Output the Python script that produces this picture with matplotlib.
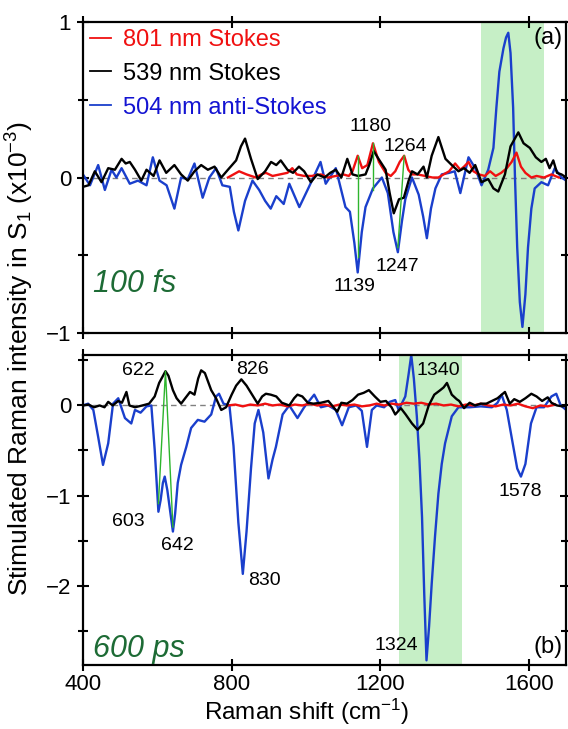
import numpy as np
import matplotlib
matplotlib.use('Agg')
import matplotlib.pyplot as plt
from matplotlib.ticker import MultipleLocator

plt.rcParams['font.family'] = ['Liberation Sans', 'DejaVu Sans']
plt.rcParams['mathtext.fontset'] = 'custom'
plt.rcParams['mathtext.rm'] = 'Liberation Sans'
plt.rcParams['mathtext.it'] = 'Liberation Sans:italic'

# ---- (a) 100 fs : (Raman shift cm-1, intensity x1e-3) ----
blue_a = [(400, 0.02), (419, -0.05), (441, 0.08), (459, -0.08), (477, 0.05), (490, 0.0),
          (504, 0.06), (526, -0.04), (548, -0.02), (571, -0.05), (588, 0.13), (606, -0.02),
          (625, -0.05), (646, -0.20), (664, 0.0), (682, -0.01), (700, 0.09), (722, -0.13),
          (740, 0.0), (758, 0.06), (775, -0.05), (795, -0.06), (806, -0.22), (818, -0.34),
          (836, -0.15), (856, -0.02), (874, -0.08), (890, -0.15), (905, -0.20), (920, -0.12),
          (940, -0.17), (955, -0.04), (982, -0.19), (1008, -0.06), (1039, 0.10), (1053, -0.04),
          (1080, 0.06), (1106, -0.19), (1118, -0.22), (1130, -0.42), (1139, -0.61), (1150, -0.35),
          (1160, -0.19), (1180, -0.07), (1204, 0.0), (1220, -0.10), (1235, -0.35), (1247, -0.48),
          (1258, -0.28), (1267, -0.14), (1285, 0.0), (1303, -0.11), (1315, -0.25), (1325, -0.39),
          (1336, -0.20), (1348, -0.07), (1365, 0.02), (1385, 0.03), (1400, 0.04), (1415, -0.10),
          (1437, 0.13), (1455, 0.06), (1472, -0.05), (1490, 0.05), (1504, 0.19), (1512, 0.45),
          (1520, 0.68), (1531, 0.83), (1538, 0.90), (1544, 0.93), (1550, 0.80), (1557, 0.45),
          (1562, 0.0), (1568, -0.45), (1575, -0.80), (1582, -0.96), (1590, -0.75), (1597, -0.45),
          (1606, -0.20), (1615, -0.07), (1633, -0.03), (1651, -0.05), (1669, 0.06), (1687, 0.0),
          (1700, -0.02)]

black_a = [(400, -0.06), (415, -0.05), (432, 0.04), (450, -0.03), (468, 0.06), (486, 0.05),
           (504, 0.12), (515, 0.09), (526, 0.10), (540, 0.05), (557, -0.02), (571, 0.05),
           (590, 0.01), (606, 0.11), (624, 0.03), (646, 0.08), (664, 0.02), (682, -0.02),
           (700, 0.04), (718, 0.08), (736, 0.05), (754, 0.07), (772, 0.0), (790, 0.05),
           (812, 0.11), (825, 0.20), (836, 0.25), (852, 0.12), (870, -0.01), (890, 0.04),
           (906, 0.10), (920, 0.08), (932, 0.11), (950, 0.05), (965, 0.03), (981, 0.07),
           (995, 0.04), (1013, -0.03), (1030, 0.02), (1050, 0.0), (1065, 0.03), (1080, 0.05),
           (1095, 0.0), (1111, 0.12), (1125, 0.02), (1140, 0.01), (1160, 0.02), (1170, 0.08),
           (1182, 0.17), (1195, 0.12), (1214, 0.05), (1225, -0.10), (1236, -0.23), (1250, -0.14),
           (1263, -0.13), (1276, -0.02), (1285, 0.04), (1300, 0.02), (1316, 0.07), (1325, 0.0),
           (1338, 0.14), (1356, 0.26), (1375, 0.12), (1392, 0.08), (1410, 0.04), (1425, 0.06),
           (1440, 0.03), (1455, 0.08), (1472, -0.03), (1490, -0.01), (1504, -0.07), (1517, -0.09),
           (1535, 0.02), (1550, 0.20), (1571, 0.29), (1585, 0.22), (1602, 0.19), (1618, 0.13),
           (1633, 0.10), (1645, 0.12), (1655, 0.06), (1665, 0.11), (1675, 0.03), (1687, 0.02),
           (1700, 0.0)]

red_a = [(790, 0.0), (805, 0.02), (820, 0.04), (840, 0.02), (865, 0.0), (880, 0.02), (892, 0.03),
         (910, 0.01), (930, 0.02), (950, 0.03), (963, 0.06), (975, 0.02), (995, 0.01), (1015, 0.01),
         (1040, 0.02), (1060, 0.0), (1080, 0.01), (1100, 0.02), (1115, 0.01), (1125, 0.04),
         (1139, 0.14), (1151, 0.06), (1165, 0.08), (1180, 0.22), (1196, 0.10), (1214, 0.03),
         (1228, 0.01), (1240, 0.04), (1252, 0.10), (1264, 0.14), (1275, 0.05), (1285, 0.02),
         (1300, 0.02), (1320, 0.01), (1340, 0.0), (1356, 0.0), (1370, 0.02), (1385, 0.04),
         (1401, 0.09), (1415, 0.05), (1425, 0.07), (1437, 0.10), (1450, 0.04), (1465, 0.02),
         (1481, 0.01), (1495, 0.04), (1510, 0.01), (1525, 0.03), (1540, 0.06), (1553, 0.10),
         (1566, 0.16), (1578, 0.07), (1590, 0.03), (1606, 0.0), (1620, 0.01), (1640, 0.0),
         (1660, 0.02), (1680, 0.0)]

# green guide lines between correlated peaks
links_a = [[(1139, 0.14), (1139, -0.51)],
           [(1180, 0.22), (1180, -0.08)],
           [(1247, -0.45), (1264, 0.14)]]
labels_a = [("1180", 1173, 0.33), ("1264", 1267, 0.20), ("1139", 1129, -0.70), ("1247", 1245, -0.57)]
band_a = (1470, 1640)

# ---- (b) 600 ps ----
blue_b = [(400, 0.0), (414, 0.02), (428, -0.05), (441, -0.35), (454, -0.66), (468, -0.42),
          (481, 0.02), (495, 0.08), (513, -0.14), (530, -0.20), (540, -0.05), (555, -0.08),
          (571, -0.01), (584, 0.0), (593, -0.49), (603, -1.18), (609, -1.05), (615, -0.86),
          (620, -0.79), (627, -0.94), (642, -1.40), (648, -1.20), (655, -0.86), (664, -0.66),
          (678, -0.46), (691, -0.25), (709, -0.16), (727, -0.18), (745, -0.10), (758, 0.10),
          (766, 0.13), (778, 0.02), (794, 0.0), (805, -0.45), (818, -1.30), (830, -1.87),
          (840, -1.40), (852, -0.70), (862, -0.20), (872, -0.05), (885, -0.30), (899, -0.81),
          (910, -0.60), (919, -0.46), (937, -0.10), (955, 0.0), (977, -0.14), (995, -0.02),
          (1022, 0.12), (1040, -0.02), (1060, 0.0), (1080, -0.05), (1097, -0.22), (1115, -0.02),
          (1135, 0.0), (1150, -0.06), (1164, -0.46), (1177, -0.05), (1190, 0.0), (1210, -0.02),
          (1225, 0.04), (1240, 0.06), (1249, -0.05), (1267, 0.10), (1276, 0.35), (1283, 0.56),
          (1290, 0.30), (1298, -0.12), (1305, -0.60), (1312, -1.24), (1318, -2.10), (1324, -2.83),
          (1331, -2.45), (1338, -1.98), (1347, -1.45), (1356, -0.98), (1365, -0.65), (1374, -0.42),
          (1392, -0.12), (1410, -0.02), (1440, -0.02), (1470, -0.01), (1500, -0.02), (1515, 0.03),
          (1526, 0.12), (1540, -0.05), (1555, -0.40), (1568, -0.70), (1578, -0.79), (1590, -0.65),
          (1605, -0.20), (1620, -0.02), (1640, -0.02), (1660, 0.10), (1673, 0.13), (1685, 0.0),
          (1700, -0.05)]

black_b = [(400, 0.0), (415, 0.01), (430, -0.02), (445, 0.0), (458, -0.02), (468, 0.04),
           (480, 0.0), (495, 0.05), (505, 0.03), (517, 0.15), (525, 0.0), (540, -0.02),
           (560, 0.0), (578, 0.02), (593, 0.10), (605, 0.25), (622, 0.38), (630, 0.33),
           (642, 0.17), (652, 0.08), (664, 0.02), (675, 0.08), (688, 0.15), (700, 0.12),
           (710, 0.30), (718, 0.39), (728, 0.36), (745, 0.17), (758, 0.08), (772, -0.05),
           (785, -0.02), (800, 0.12), (812, 0.22), (826, 0.29), (840, 0.22), (855, 0.12),
           (870, 0.02), (882, 0.10), (892, 0.13), (905, 0.12), (920, 0.10), (935, 0.03),
           (955, 0.0), (968, 0.08), (977, 0.12), (990, 0.10), (1005, 0.03), (1020, 0.02),
           (1040, 0.03), (1060, 0.05), (1070, 0.0), (1084, -0.07), (1095, 0.03), (1110, 0.02),
           (1125, 0.06), (1140, 0.12), (1155, 0.14), (1169, 0.17), (1185, 0.10), (1200, 0.04),
           (1215, 0.05), (1230, -0.02), (1240, -0.10), (1255, -0.03), (1268, -0.10), (1285, -0.20),
           (1300, -0.27), (1315, -0.20), (1330, 0.0), (1345, 0.12), (1361, 0.17), (1370, 0.20),
           (1379, 0.25), (1392, 0.12), (1405, 0.07), (1412, 0.05), (1425, -0.03), (1440, 0.03),
           (1455, 0.0), (1470, 0.02), (1485, 0.02), (1500, 0.05), (1515, 0.08), (1535, 0.15),
           (1548, 0.02), (1560, 0.07), (1575, 0.04), (1590, 0.08), (1606, 0.13), (1620, 0.10),
           (1635, 0.05), (1650, 0.09), (1660, 0.03), (1675, 0.0), (1690, -0.01), (1700, 0.0)]

red_b = [(790, 0.0), (810, 0.01), (830, -0.01), (850, 0.01), (870, 0.0), (890, 0.02), (910, 0.0),
         (930, 0.01), (950, -0.01), (970, 0.01), (990, 0.0), (1010, 0.02), (1030, 0.0), (1050, 0.01),
         (1070, -0.01), (1090, 0.01), (1110, 0.0), (1130, 0.01), (1150, -0.01), (1170, 0.0),
         (1190, 0.02), (1210, 0.0), (1230, 0.02), (1250, 0.01), (1270, 0.03), (1290, 0.02),
         (1310, 0.03), (1330, 0.01), (1350, 0.02), (1370, 0.0), (1390, 0.01), (1410, -0.01),
         (1430, 0.01), (1450, 0.0), (1470, 0.02), (1490, 0.0), (1510, -0.01), (1530, 0.01),
         (1550, 0.0), (1570, 0.02), (1590, -0.01), (1610, -0.03), (1630, 0.0), (1650, -0.01),
         (1670, 0.01)]

links_b = [[(603, -1.09), (622, 0.38), (642, -1.35)]]
labels_b = [("622", 550, 0.385), ("826", 856, 0.40), ("603", 523, -1.29), ("642", 653, -1.56),
            ("830", 889, -1.94), ("1340", 1356, 0.39), ("1324", 1243, -2.67), ("1578", 1575, -0.96)]
band_b = (1250, 1420)

series_names = ["801 nm Stokes", "539 nm Stokes", "504 nm anti-Stokes"]
RED, BLACK, BLUE = '#f01010', '#000000', '#1a3fcc'
TEXT_BLUE = '#1414d2'
GREEN = '#2db52d'
DARKGREEN = '#1d6b35'
BAND = '#c6efc6'


def draw_panel(ax, red, black, blue, links, labels, band, ylim, tag, time_text, time_y, tag_y):
    ax.axvspan(*band, color=BAND, lw=0, zorder=0)
    ax.axhline(0, color='#808080', ls=(0, (4, 3)), lw=1.0, zorder=1)
    for data, col, name in [(red, RED, series_names[0]), (black, BLACK, series_names[1]),
                            (blue, BLUE, series_names[2])]:
        x, y = np.array(data).T
        ax.plot(x, y, color=col, lw=1.7, label=name, zorder=3 if col != BLUE else 2)
    for seg in links:
        x, y = np.array(seg).T
        ax.plot(x, y, color=GREEN, lw=1.0, zorder=4)
    for s, x, y in labels:
        ax.text(x, y, s, fontsize=14, ha='center', va='center', zorder=5)
    ax.set_xlim(400, 1700)
    ax.set_ylim(*ylim)
    ax.xaxis.set_major_locator(MultipleLocator(400))
    ax.yaxis.set_major_locator(MultipleLocator(1))
    ax.yaxis.set_minor_locator(MultipleLocator(0.5))
    ax.tick_params(which='both', direction='inout', top=True, right=True,
                   width=1.5, labelsize=16, pad=4)
    ax.tick_params(axis='x', pad=2)
    ax.tick_params(which='major', length=9)
    ax.tick_params(which='minor', length=7)
    for sp in ax.spines.values():
        sp.set_linewidth(1.6)
    ax.text(0.992, tag_y, tag, transform=ax.transAxes, fontsize=17, ha='right', va='center')
    ax.text(0.02, time_y, time_text, transform=ax.transAxes, fontsize=22, style='italic',
            color=DARKGREEN, ha='left', va='center')


fig = plt.figure(figsize=(5.68, 7.29), dpi=100)
ax1 = fig.add_axes([0.146, 0.543, 0.851, 0.427])
ax2 = fig.add_axes([0.146, 0.088, 0.851, 0.425])

draw_panel(ax1, red_a, black_a, blue_a, links_a, labels_a, band_a, (-1.0, 1.0),
           "(a)", "100 fs", 0.158, 0.948)
draw_panel(ax2, red_b, black_b, blue_b, links_b, labels_b, band_b, (-2.88, 0.56),
           "(b)", "600 ps", 0.05, 0.056)
ax1.tick_params(labelbottom=False)

leg = ax1.legend(loc='upper left', frameon=False, fontsize=17, handlelength=0.9,
                 handletextpad=0.5, labelspacing=0.5, borderaxespad=0.0, borderpad=0.3,
                 labelcolor=[RED, BLACK, TEXT_BLUE])
for h in leg.get_lines():
    h.set_linewidth(1.3)

fig.text(0.035, 0.508, "Stimulated Raman intensity in S$_1$ (x10$^{-3}$)", rotation=90,
         fontsize=19, ha='center', va='center')
fig.text(0.54, 0.003, "Raman shift (cm$^{-1}$)", fontsize=17.5, ha='center', va='bottom')

fig.savefig('out.png', dpi=100)
